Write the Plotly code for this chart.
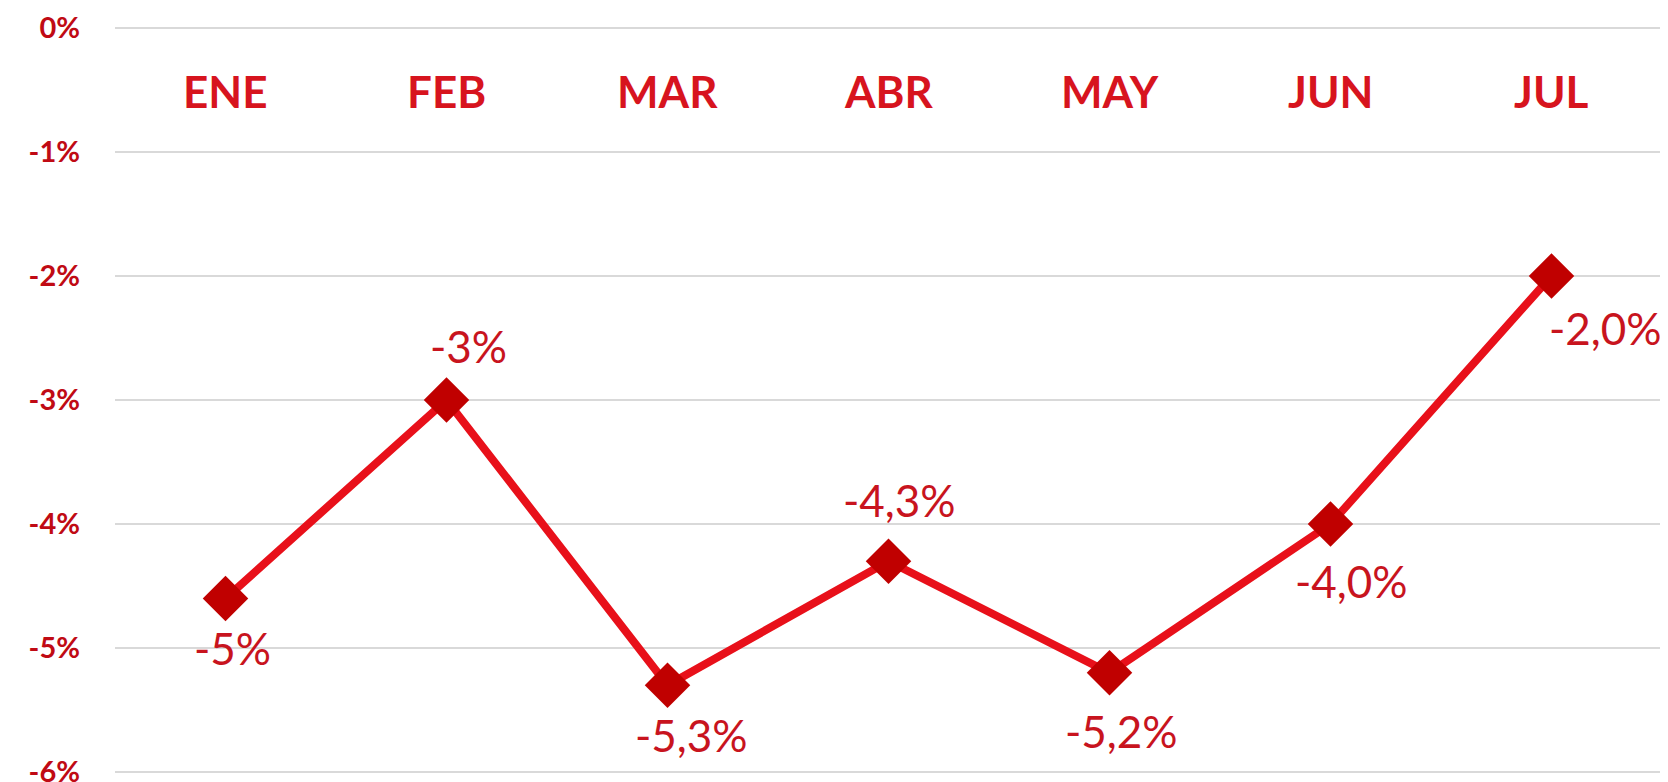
import plotly.graph_objects as go

months = ["ENE", "FEB", "MAR", "ABR", "MAY", "JUN", "JUL"]
values = [-4.6, -3.0, -5.3, -4.3, -5.2, -4.0, -2.0]
value_labels = ["-5%", "-3%", "-5,3%", "-4,3%", "-5,2%", "-4,0%", "-2,0%"]
y_ticks = [0, -1, -2, -3, -4, -5, -6]
y_tick_labels = ["0%", "-1%", "-2%", "-3%", "-4%", "-5%", "-6%"]

# label offsets in pixels (style/positioning, not data)
label_dx = [7, 22, 24, 11, 12, 21, 54]
label_dy = [-50, 54, -50, 61, -58, -57, -52]

LINE = "#E8101A"
MARK = "#C00000"
TXT = "#C8141E"
MONTH = "#D7141E"
TICK = "#C00A14"
FONT = "Lato"

x_idx = list(range(len(months)))

fig = go.Figure()
fig.add_trace(go.Scatter(
    x=x_idx, y=values, mode="lines+markers",
    line=dict(color=LINE, width=8),
    marker=dict(symbol="diamond", size=35, color=MARK, line=dict(width=0)),
    hoverinfo="skip", showlegend=False,
))

annotations = []
for i, m in enumerate(months):
    annotations.append(dict(
        x=i, y=-0.51, xref="x", yref="y", text=f"<b>{m}</b>", showarrow=False,
        font=dict(family=FONT, size=44, color=MONTH), xanchor="center", yanchor="middle",
    ))
for i, (v, t) in enumerate(zip(values, value_labels)):
    annotations.append(dict(
        x=i, y=v, xref="x", yref="y", text=t, showarrow=False,
        xshift=label_dx[i], yshift=label_dy[i],
        font=dict(family=FONT, size=44, color=TXT), xanchor="center", yanchor="middle",
    ))

# the page body adds an 8px offset; the figure is sized to fill the rest
fig.update_layout(
    width=1660, height=774,
    margin=dict(l=107, r=6, t=15, b=5, autoexpand=False),
    paper_bgcolor="white", plot_bgcolor="white",
    annotations=annotations,
    xaxis=dict(range=[-0.5, 6.5], showgrid=False, zeroline=False, showticklabels=False,
               showline=False, ticks="", automargin=False),
    yaxis=dict(range=[-6.04, 0.04], tickvals=y_ticks, ticktext=y_tick_labels,
               showgrid=True, gridcolor="#D9D9D9", gridwidth=1.5, zeroline=False,
               showline=False, ticks="", ticklabelstandoff=34, ticklabeloverflow="allow",
               automargin=False,
               tickfont=dict(family=FONT, size=29, color=TICK, weight="bold")),
)

fig.write_html("out.html")
